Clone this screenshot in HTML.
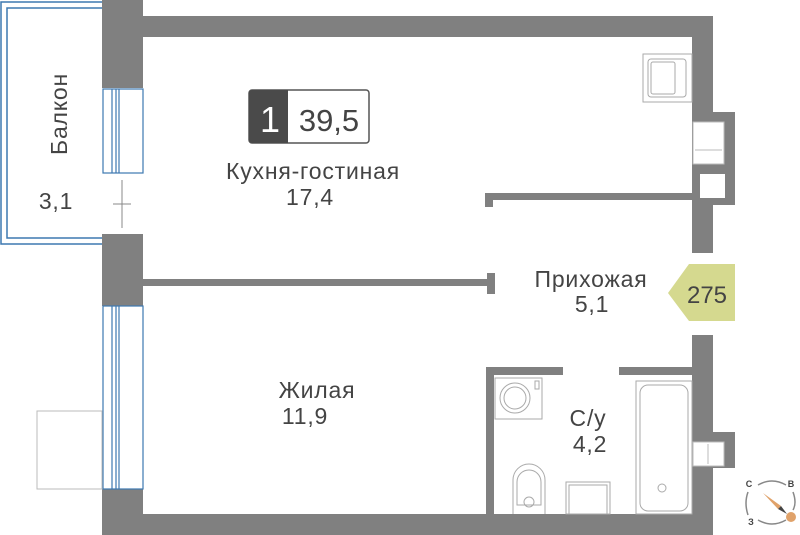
<!DOCTYPE html>
<html><head><meta charset="utf-8"><style>
html,body{margin:0;padding:0;background:#fff;width:800px;height:535px;overflow:hidden}
svg{display:block}
text{font-family:"Liberation Sans","DejaVu Sans",sans-serif;fill:#444}
.l{font-size:23px;letter-spacing:0.8px}
</style></head><body>
<svg width="800" height="535" viewBox="0 0 800 535">
<g fill="#808080">
<rect x="102" y="0" width="41" height="88"/>
<rect x="143" y="16" width="570" height="21"/>
<rect x="102" y="234" width="41" height="72"/>
<rect x="102" y="489" width="41" height="46"/>
<rect x="102" y="514" width="611" height="21"/>
<rect x="692" y="37" width="21" height="216"/>
<rect x="692" y="112" width="43" height="93"/>
<rect x="692" y="335" width="21" height="200"/>
<rect x="692" y="432" width="43" height="36"/>
<rect x="485" y="193" width="207" height="7"/>
<rect x="485" y="193" width="8" height="14"/>
<rect x="143" y="279" width="352" height="7"/>
<rect x="487" y="273" width="8" height="21"/>
<rect x="486" y="367" width="77" height="8"/>
<rect x="619" y="367" width="73" height="8"/>
<rect x="486" y="367" width="8" height="147"/>
</g>
<rect x="693" y="122" width="31" height="42" fill="#fff" stroke="#bbb"/>
<line x1="695" y1="150" x2="722" y2="150" stroke="#bbb"/>
<rect x="700" y="174" width="25" height="24" fill="#fff"/>
<rect x="693" y="442" width="31" height="24" fill="#fff" stroke="#bbb"/>
<line x1="708" y1="444" x2="708" y2="464" stroke="#bbb"/>
<g fill="#fff" stroke="#3d78b0" stroke-width="1.2">
<rect x="103" y="89" width="40" height="84"/>
<rect x="103" y="306" width="40" height="183"/>
</g>
<g stroke="#3d78b0" stroke-width="1.2">
<line x1="112" y1="89" x2="112" y2="173"/><line x1="116" y1="89" x2="116" y2="173"/><line x1="119" y1="89" x2="119" y2="173"/>
<line x1="112" y1="306" x2="112" y2="489"/><line x1="116" y1="306" x2="116" y2="489"/><line x1="119" y1="306" x2="119" y2="489"/>
</g>
<path d="M102 2 H1 V244 H102" fill="none" stroke="#3d78b0" stroke-width="1.5"/>
<path d="M102 8 H7 V238 H102" fill="none" stroke="#3d78b0" stroke-width="1.5"/>
<line x1="122" y1="180" x2="122" y2="228" stroke="#888"/>
<line x1="113" y1="204" x2="131" y2="204" stroke="#888"/>
<rect x="37" y="411" width="65" height="78" fill="none" stroke="#bbb"/>
<rect x="643" y="54" width="49" height="48" fill="none" stroke="#aaa"/>
<rect x="648" y="59" width="38" height="38" rx="3" fill="none" stroke="#aaa"/>
<rect x="651" y="62" width="24" height="32" rx="2" fill="none" stroke="#aaa"/>
<g fill="none" stroke="#aaa">
<rect x="495" y="378" width="47" height="41"/>
<circle cx="515" cy="398" r="15"/><circle cx="515" cy="398" r="11"/>
<rect x="535" y="381" width="4" height="8"/>
<rect x="566" y="482" width="44" height="32"/>
<rect x="569" y="485" width="38" height="29"/>
<rect x="636" y="381" width="56" height="133"/>
<rect x="640" y="385" width="48" height="126" rx="8"/>
<circle cx="662" cy="488" r="4"/>
<path d="M513 514 V480 A16 16 0 0 1 545 480 V514"/>
<path d="M517 505 V482 A12 12 0 0 1 541 482 V505 Z"/>
<circle cx="529" cy="502" r="5"/>
</g>
<rect x="249" y="90" width="120" height="53" rx="3" fill="#fff" stroke="#555" stroke-width="1.5"/>
<path d="M252 90 H288 V143 H252 A3 3 0 0 1 249 140 V93 A3 3 0 0 1 252 90Z" fill="#4a4a4a"/>
<text x="270" y="132" font-size="36" text-anchor="middle" style="fill:#fff">1</text>
<text x="329" y="131" font-size="31" text-anchor="middle">39,5</text>
<text class="l" x="313" y="179" text-anchor="middle">Кухня-гостиная</text>
<text class="l" x="310" y="205" text-anchor="middle">17,4</text>
<text class="l" x="56" y="209" text-anchor="middle">3,1</text>
<text class="l" transform="translate(67,114) rotate(-90)" text-anchor="middle">Балкон</text>
<text class="l" x="591" y="287" text-anchor="middle">Прихожая</text>
<text class="l" x="592" y="312" text-anchor="middle">5,1</text>
<text class="l" x="317" y="398" text-anchor="middle">Жилая</text>
<text class="l" x="305" y="424" text-anchor="middle">11,9</text>
<text class="l" x="588" y="426" text-anchor="middle">С/у</text>
<text class="l" x="590" y="452" text-anchor="middle">4,2</text>
<path d="M689 264 H735 V321 H689 L668 293 Z" fill="#d5d98f"/>
<text x="707" y="303" font-size="24" text-anchor="middle">275</text>
<g fill="none" stroke="#888" stroke-width="1.5">
<path d="M758 485 Q772 477 786 485"/><path d="M758 520 Q772 528 786 520"/>
<path d="M748 492 Q744 503 748 515"/><path d="M793 492 Q797 503 793 510"/>
</g>
<text x="749" y="487" font-size="9" font-weight="bold" text-anchor="middle">С</text>
<text x="791" y="487" font-size="9" font-weight="bold" text-anchor="middle">В</text>
<text x="751" y="525" font-size="9" font-weight="bold" text-anchor="middle">З</text>
<path d="M763 493 L781 506 L778 509Z" fill="#e0a26a"/>
<path d="M778 509 L781 506 L787 514Z" fill="#444"/>
<circle cx="791" cy="517" r="5" fill="#e0a26a"/>
</svg>
</body></html>
